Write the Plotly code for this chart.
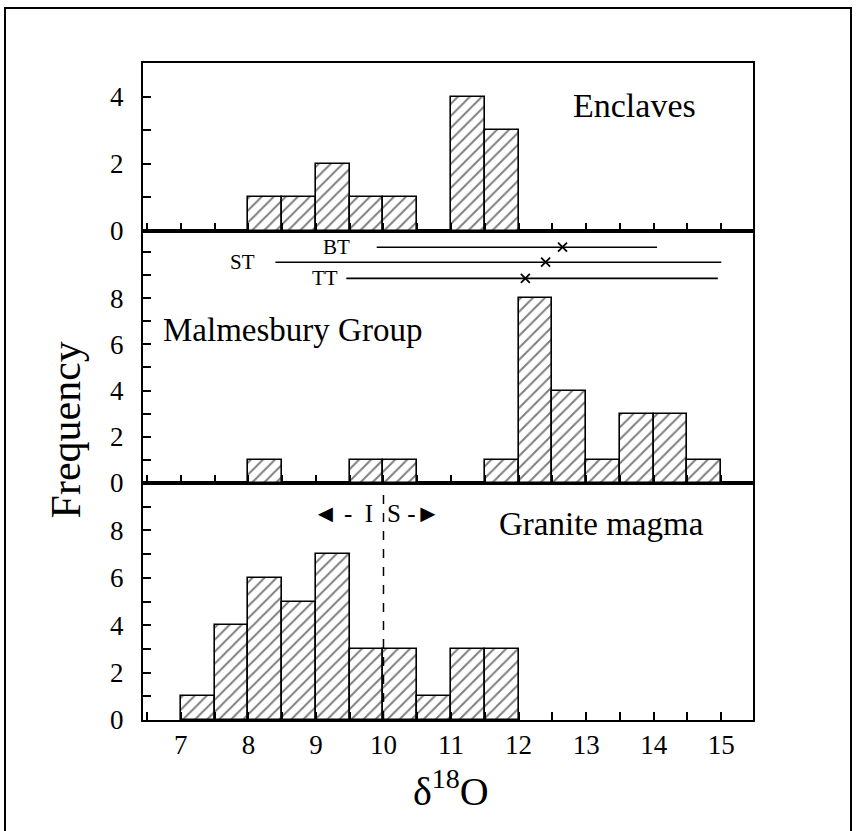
import plotly.graph_objects as go

# δ18O histogram bins (bin centres, 0.5 per-mil wide) and counts per group
bin_width = 0.5

enclave_bins = [8.25, 8.75, 9.25, 9.75, 10.25, 11.25, 11.75]
enclave_counts = [1, 1, 2, 1, 1, 4, 3]

malmesbury_bins = [8.25, 9.75, 10.25, 11.75, 12.25, 12.75, 13.25, 13.75, 14.25, 14.75]
malmesbury_counts = [1, 1, 1, 1, 8, 4, 1, 3, 3, 1]

granite_bins = [7.25, 7.75, 8.25, 8.75, 9.25, 9.75, 10.25, 10.75, 11.25, 11.75]
granite_counts = [1, 4, 6, 5, 7, 3, 3, 1, 3, 3]

# Malmesbury Group formations: δ18O range and mean
unit_names = ["BT", "ST", "TT"]
unit_min = [9.9, 8.4, 9.45]
unit_max = [14.05, 15.0, 14.95]
unit_mean = [12.65, 12.4, 12.1]

# I-type / S-type granite divide
is_boundary = 10.0

x_tick_vals = [7, 8, 9, 10, 11, 12, 13, 14, 15]

SERIF = "Liberation Serif, Times New Roman, serif"
INK = "black"

# vertical stacking of the formation range bars inside the middle panel
unit_rows = [10.2, 9.55, 8.85]
unit_label_x = [9.53, 8.13, 9.36]


def hist_trace(xs, ys, xa, ya):
    return go.Bar(
        x=xs, y=ys, width=bin_width, xaxis=xa, yaxis=ya,
        marker=dict(
            color="white",
            line=dict(color=INK, width=1.6),
            pattern=dict(shape="/", fgcolor=INK, bgcolor="white",
                         size=8.5, solidity=0.24),
        ),
        showlegend=False, hoverinfo="skip",
    )


fig = go.Figure()
fig.add_trace(hist_trace(granite_bins, granite_counts, "x", "y"))
fig.add_trace(hist_trace(malmesbury_bins, malmesbury_counts, "x2", "y2"))
fig.add_trace(hist_trace(enclave_bins, enclave_counts, "x3", "y3"))

# formation range lines with the mean marked by a cross
for name, lo, hi, mu, row, lx in zip(unit_names, unit_min, unit_max,
                                     unit_mean, unit_rows, unit_label_x):
    fig.add_trace(go.Scatter(
        x=[lo, hi], y=[row, row], mode="lines", xaxis="x2", yaxis="y2",
        line=dict(color=INK, width=1.6), showlegend=False, hoverinfo="skip"))
    fig.add_trace(go.Scatter(
        x=[mu], y=[row], mode="markers", xaxis="x2", yaxis="y2",
        marker=dict(symbol="x-thin", size=9, line=dict(color=INK, width=1.8)),
        showlegend=False, hoverinfo="skip"))
    fig.add_annotation(x=lx, y=row, xref="x2", yref="y2", text=name,
                       showarrow=False, xanchor="right", yanchor="middle",
                       font=dict(family=SERIF, size=21, color=INK))

x_range = [6.44, 15.47]

x_common = dict(
    range=x_range, showline=True, linecolor=INK, linewidth=2, mirror=True,
    ticks="inside", ticklen=8, tickwidth=1.5, tickcolor=INK,
    tickvals=x_tick_vals, showgrid=False, zeroline=False,
    minor=dict(ticks="inside", ticklen=8, tickwidth=1.5, tickcolor=INK,
               dtick=0.5, tick0=0, showgrid=False),
)
y_common = dict(
    showline=True, linecolor=INK, linewidth=2, mirror=True,
    ticks="inside", ticklen=8, tickwidth=1.5, tickcolor=INK,
    showgrid=False, zeroline=False, ticklabelstandoff=12,
    tickfont=dict(family=SERIF, size=27, color=INK),
    minor=dict(ticks="inside", ticklen=8, tickwidth=1.5, tickcolor=INK,
               dtick=1, tick0=0, showgrid=False),
)

H_PLOT = 657.0
d1 = 237 / H_PLOT
d2 = (237 + 252) / H_PLOT

fig.update_layout(
    width=864, height=831,
    margin=dict(l=143, r=111, t=63, b=111, pad=0),
    paper_bgcolor="white", plot_bgcolor="white",
    bargap=0,
    xaxis=dict(**x_common, anchor="y", showticklabels=True,
               tickfont=dict(family=SERIF, size=27, color=INK),
               ticklabelstandoff=0),
    xaxis2=dict(**x_common, anchor="y2", matches="x", showticklabels=False),
    xaxis3=dict(**x_common, anchor="y3", matches="x", showticklabels=False),
    yaxis=dict(**y_common, domain=[0, d1], range=[0, 10],
               tickvals=[0, 2, 4, 6, 8], anchor="x"),
    yaxis2=dict(**y_common, domain=[d1, d2], range=[0, 10.9],
                tickvals=[0, 2, 4, 6, 8], anchor="x2"),
    yaxis3=dict(**y_common, domain=[d2, 1], range=[0, 5],
                tickvals=[0, 2, 4], anchor="x3"),
    font=dict(family=SERIF, color=INK),
)

# panel names
fig.add_annotation(x=12.78, y=3.73, xref="x3", yref="y3", text="Enclaves",
                   showarrow=False, xanchor="left", yanchor="middle",
                   font=dict(family=SERIF, size=34, color=INK))
fig.add_annotation(x=6.70, y=6.6, xref="x2", yref="y2", text="Malmesbury Group",
                   showarrow=False, xanchor="left", yanchor="middle",
                   font=dict(family=SERIF, size=33, color=INK))
fig.add_annotation(x=11.68, y=8.27, xref="x", yref="y", text="Granite magma",
                   showarrow=False, xanchor="left", yanchor="middle",
                   font=dict(family=SERIF, size=33, color=INK))

# I / S divide
fig.add_shape(type="line", xref="x", yref="y", x0=is_boundary, x1=is_boundary,
              y0=0, y1=9.65, line=dict(color=INK, width=1.5, dash="dash"))
fig.add_annotation(x=is_boundary - 0.12, y=8.7, xref="x", yref="y",
                   text="◄ -&nbsp; I", showarrow=False, xanchor="right",
                   yanchor="middle", font=dict(family=SERIF, size=25, color=INK))
fig.add_annotation(x=is_boundary + 0.02, y=8.7, xref="x", yref="y",
                   text="S -►", showarrow=False, xanchor="left",
                   yanchor="middle", font=dict(family=SERIF, size=25, color=INK))

# axis titles
fig.add_annotation(x=-0.126, y=0.441, xref="paper", yref="paper",
                   text="Frequency", textangle=-90, showarrow=False,
                   xanchor="center", yanchor="middle",
                   font=dict(family=SERIF, size=42, color=INK))
fig.add_annotation(x=0.505, y=-0.105, xref="paper", yref="paper",
                   text="δ<sup>18</sup>O", showarrow=False,
                   xanchor="center", yanchor="middle",
                   font=dict(family=SERIF, size=40, color=INK))

# frame round the whole figure
fig.add_shape(type="rect", xref="paper", yref="paper",
              x0=(5 - 143) / 610, x1=(851 - 143) / 610,
              y0=(720 - 840) / H_PLOT, y1=(720 - 8) / H_PLOT,
              line=dict(color=INK, width=2), layer="below")

fig.write_html("out.html")
